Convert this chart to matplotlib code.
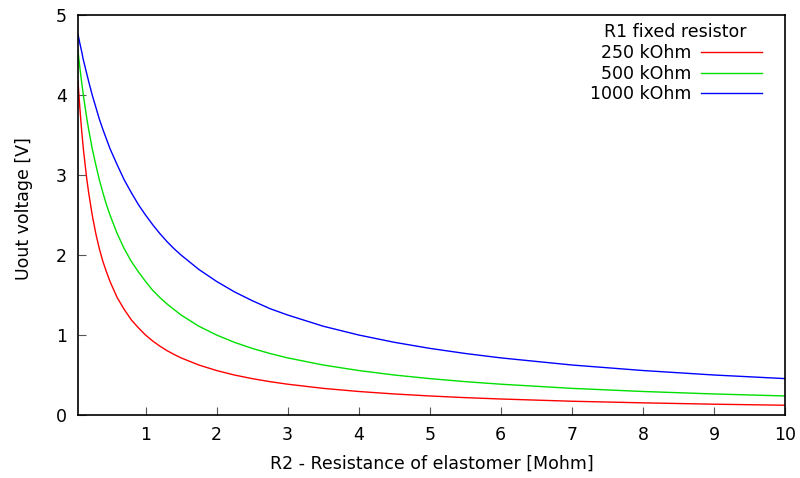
import matplotlib
matplotlib.use("Agg")
import matplotlib.pyplot as plt

# R2 values [Mohm] and the output voltage
r2 = [0.05, 0.075, 0.1, 0.125, 0.15, 0.175, 0.2, 0.25, 0.3, 0.35, 0.4, 0.45,
      0.5, 0.6, 0.7, 0.8, 0.9, 1.0, 1.1, 1.2, 1.3, 1.4, 1.5, 1.75, 2, 2.25,
      2.5, 2.75, 3, 3.5, 4, 4.5, 5, 5.5, 6, 7, 8, 9, 10]
u_250 = [4.17, 3.85, 3.57, 3.33, 3.13, 2.94, 2.78, 2.5, 2.27, 2.08, 1.92, 1.79,
         1.67, 1.47, 1.32, 1.19, 1.09, 1.0, 0.926, 0.862, 0.806, 0.758, 0.714,
         0.625, 0.556, 0.5, 0.455, 0.417, 0.385, 0.333, 0.294, 0.263, 0.238,
         0.217, 0.2, 0.172, 0.152, 0.135, 0.122]
u_500 = [4.55, 4.35, 4.17, 4.0, 3.85, 3.70, 3.57, 3.33, 3.13, 2.94, 2.78, 2.63,
         2.5, 2.27, 2.08, 1.92, 1.79, 1.67, 1.56, 1.47, 1.39, 1.32, 1.25,
         1.11, 1.0, 0.909, 0.833, 0.769, 0.714, 0.625, 0.556, 0.5, 0.455,
         0.417, 0.385, 0.333, 0.294, 0.263, 0.238]
u_1000 = [4.76, 4.65, 4.55, 4.44, 4.35, 4.26, 4.17, 4.0, 3.85, 3.70, 3.57, 3.45,
          3.33, 3.13, 2.94, 2.78, 2.63, 2.5, 2.38, 2.27, 2.17, 2.08, 2.0,
          1.82, 1.67, 1.54, 1.43, 1.33, 1.25, 1.11, 1.0, 0.909, 0.833,
          0.769, 0.714, 0.625, 0.556, 0.5, 0.455]
labels = ["250 kOhm", "500 kOhm", "1000 kOhm"]
colors = ["#ff0000", "#00e000", "#0000ff"]

plt.rcParams["font.family"] = "DejaVu Sans"
plt.rcParams["font.size"] = 12.5

fig = plt.figure(figsize=(8, 4.78), dpi=100)
ax = fig.add_axes([78 / 800, 63 / 478, 707 / 800, 400 / 478])

for ys, lab, c in zip([u_250, u_500, u_1000], labels, colors):
    ax.plot(r2, ys, color=c, lw=1, label=lab)

ax.set_xlim(0.05, 10)
ax.set_ylim(0, 5)
ax.set_xticks(range(1, 11))
ax.set_yticks(range(0, 6))
ax.tick_params(direction="in", length=6, width=0.8, color="#555555", pad=8)
for s in ax.spines.values():
    s.set_linewidth(1.2)
ax.set_xlabel("R2 - Resistance of elastomer [Mohm]", labelpad=8)
ax.set_ylabel("Uout voltage [V]")
ax.yaxis.set_label_coords(-0.064, 0.517)

ax.legend(title="R1 fixed resistor", loc="upper right", frameon=False,
          markerfirst=False, handlelength=3.5, borderpad=0.15,
          labelspacing=0.15, handletextpad=0.55, borderaxespad=0.8,
          title_fontsize=12.5, bbox_to_anchor=(1 - 7 / 707, 1 + 8 / 400))

fig.savefig("out.png", dpi=100)
